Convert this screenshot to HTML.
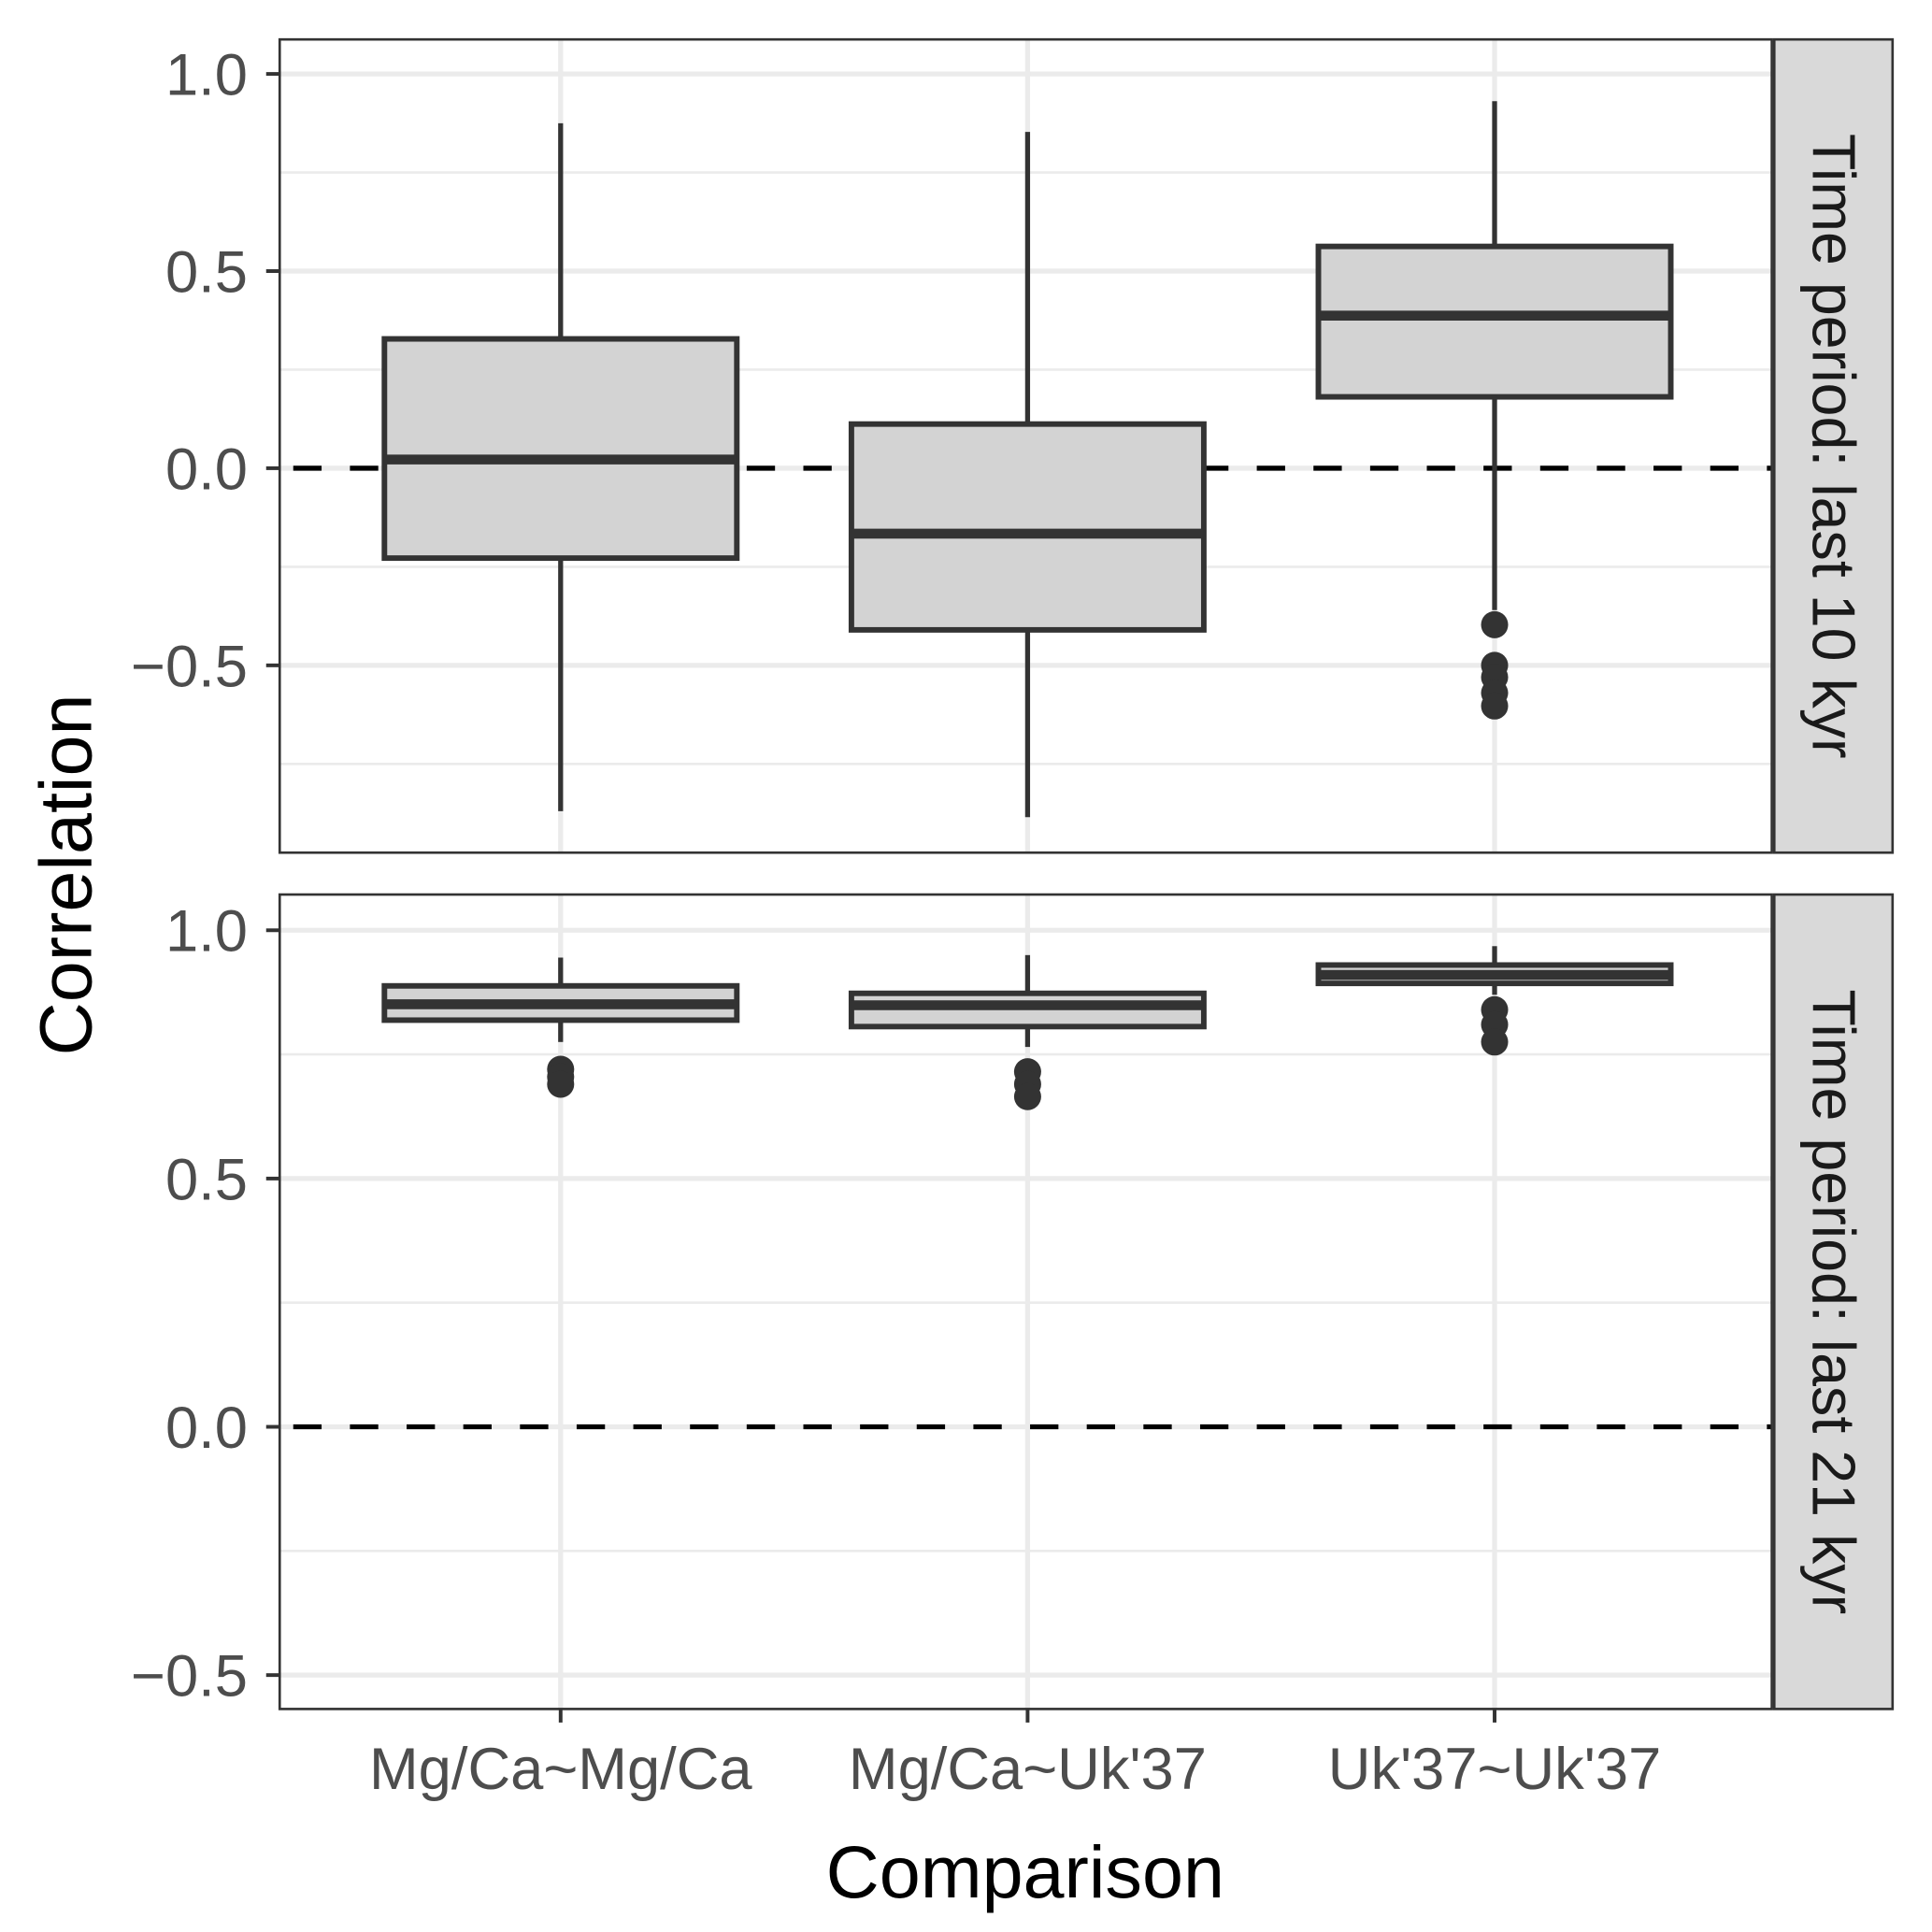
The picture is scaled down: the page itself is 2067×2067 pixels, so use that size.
<!DOCTYPE html>
<html><head><meta charset="utf-8"><style>
html,body{margin:0;padding:0;background:#fff;}
svg{display:block;}
text{font-family:"Liberation Sans",Arial,sans-serif;}
</style></head><body>
<svg id="chart" width="2067" height="2067" viewBox="0 0 1568 1568" xmlns="http://www.w3.org/2000/svg"></svg>
<script>
const categories = ["Mg/Ca~Mg/Ca", "Mg/Ca~Uk'37", "Uk'37~Uk'37"];
const panelLabels = ["Time period: last 10 kyr", "Time period: last 21 kyr"];
// per panel: [lowerWhisker, q1, median, q3, upperWhisker]
const stats10 = [[-0.87,-0.228,0.022,0.328,0.875],[-0.885,-0.41,-0.166,0.112,0.853],[-0.36,0.181,0.387,0.5625,0.931]];
const outliers10 = [[],[],[-0.397,-0.5,-0.53,-0.57,-0.603]];
const stats21 = [[0.775,0.819,0.851,0.888,0.945],[0.765,0.806,0.849,0.873,0.95],[0.87,0.893,0.91,0.93,0.968]];
const outliers21 = [[0.72,0.705,0.69],[0.715,0.69,0.665],[0.84,0.81,0.775]];
const yTicks10 = [1.0,0.5,0.0,-0.5];
const yTickLabels10 = ["1.0","0.5","0.0","\u22120.5"];
const yTicks21 = [1.0,0.5,0.0,-0.5];
const yTickLabels21 = ["1.0","0.5","0.0","\u22120.5"];

const NS="http://www.w3.org/2000/svg";
const svg=document.getElementById('chart');
function mk(tag,attrs,parent){const e=document.createElementNS(NS,tag);for(const k in attrs)e.setAttribute(k,attrs[k]);(parent||svg).appendChild(e);return e;}
const X0=227,X1=1438;
const xPos=i=>455+i*379;
const panels=[
 {top:32,bot:692,y:v=>380-320*v,stats:stats10,outs:outliers10,ticks:yTicks10,labels:yTickLabels10,minor:[0.75,0.25,-0.25,-0.75],label:panelLabels[0],name:'panel-last-10-kyr'},
 {top:726,bot:1387,y:v=>1158-403*v,stats:stats21,outs:outliers21,ticks:yTicks21,labels:yTickLabels21,minor:[0.75,0.25,-0.25],label:panelLabels[1],name:'panel-last-21-kyr'}
];
panels.forEach((p,pi)=>{
 const g=mk('g',{});
 
 
 mk('rect',{x:X0,y:p.top,width:X1-X0,height:p.bot-p.top,fill:'#fff'},g);
 p.minor.forEach(v=>{const l=mk('line',{x1:X0,x2:X1,y1:p.y(v),y2:p.y(v),stroke:'#ebebeb','stroke-width':2},g);});
 p.ticks.forEach(v=>{const l=mk('line',{x1:X0,x2:X1,y1:p.y(v),y2:p.y(v),stroke:'#ebebeb','stroke-width':4},g);});
 categories.forEach((c,i)=>{const l=mk('line',{x1:xPos(i),x2:xPos(i),y1:p.top,y2:p.bot,stroke:'#ebebeb','stroke-width':4},g);});
 const z=mk('line',{x1:X0,x2:X1,y1:p.y(0),y2:p.y(0),stroke:'#000','stroke-width':4,'stroke-dasharray':'23 23','stroke-dashoffset':'-11'},g);
 
 
 p.stats.forEach((s,i)=>{
  const x=xPos(i);
  const b=mk('g',{},g);
  
  
  mk('line',{x1:x,x2:x,y1:p.y(s[0]),y2:p.y(s[1]),stroke:'#333','stroke-width':4},b);
  mk('line',{x1:x,x2:x,y1:p.y(s[3]),y2:p.y(s[4]),stroke:'#333','stroke-width':4},b);
  mk('rect',{x:x-143,y:p.y(s[3]),width:286,height:p.y(s[1])-p.y(s[3]),fill:'#d3d3d3',stroke:'#333','stroke-width':4.5},b);
  mk('line',{x1:x-143,x2:x+143,y1:p.y(s[2]),y2:p.y(s[2]),stroke:'#333','stroke-width':8},b);
  p.outs[i].forEach(v=>{const c=mk('circle',{cx:x,cy:p.y(v),r:11,fill:'#333'},b);});
 });
 mk('rect',{x:X0,y:p.top,width:X1-X0,height:p.bot-p.top,fill:'none',stroke:'#333','stroke-width':2},g);
 p.ticks.forEach((v,k)=>{
  mk('line',{x1:X0-11,x2:X0,y1:p.y(v),y2:p.y(v),stroke:'#333','stroke-width':3},g);
  const t=mk('text',{x:X0-26,y:p.y(v)+17,'text-anchor':'end','font-size':48,fill:'#4d4d4d'},g);
  t.textContent=p.labels[k];
  
  
 });
 const s=mk('rect',{x:1440,y:p.top,width:96,height:p.bot-p.top,fill:'#d9d9d9',stroke:'#333','stroke-width':2},g);
 
 
 const cy=(p.top+p.bot)/2;
 const st=mk('text',{x:1488,y:cy,'text-anchor':'middle','font-size':49,fill:'#1a1a1a',transform:`rotate(90 1488 ${cy})`,'dominant-baseline':'central'},g);
 st.textContent=p.label;
 
 
});
categories.forEach((c,i)=>{
 mk('line',{x1:xPos(i),x2:xPos(i),y1:1387,y2:1398,stroke:'#333','stroke-width':3});
 const t=mk('text',{x:xPos(i),y:1452,'text-anchor':'middle','font-size':48,fill:'#4d4d4d'});
 t.textContent=c;
 
 
});
const xt=mk('text',{x:832,y:1540,'text-anchor':'middle','font-size':60,fill:'#000'});
xt.textContent='Comparison';


const yt=mk('text',{x:74,y:710,'text-anchor':'middle','font-size':60,fill:'#000',transform:'rotate(-90 74 710)'});
yt.textContent='Correlation';


</script>
</body></html>
